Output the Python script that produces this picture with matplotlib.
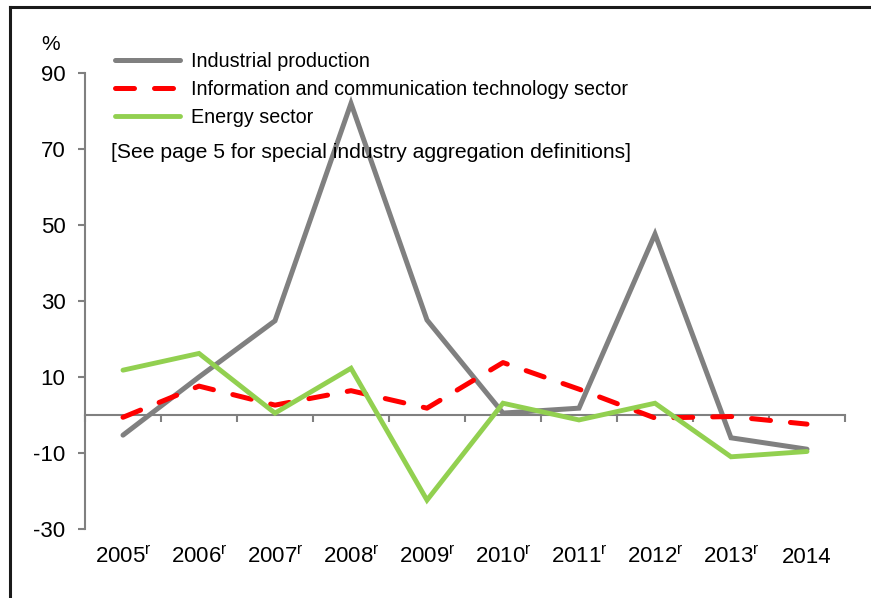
import matplotlib
matplotlib.use("Agg")
import matplotlib.pyplot as plt
from matplotlib.lines import Line2D
import matplotlib.transforms as mtransforms
import numpy as np

plt.rcParams['font.family'] = ['Liberation Sans', 'DejaVu Sans']

years = ["2005", "2006", "2007", "2008", "2009", "2010", "2011", "2012", "2013", "2014"]
revised = [True, True, True, True, True, True, True, True, True, False]
industrial = [-5.3, 10.0, 24.8, 82.0, 25.0, 0.5, 1.8, 47.6, -6.0, -9.0]
ict = [-0.6, 7.6, 2.6, 6.4, 1.8, 13.8, 6.8, -0.8, -0.4, -2.4]
energy = [11.8, 16.2, 0.5, 12.3, -22.4, 3.1, -1.3, 3.1, -11.0, -9.6]
yticks = [-30, -10, 10, 30, 50, 70, 90]

W, H = 871, 598
fig = plt.figure(figsize=(W / 100, H / 100), dpi=100)
ax = fig.add_axes([85 / W, 1 - 529 / H, 760 / W, (529 - 73) / H])

x = np.arange(len(years))
ax.plot(x, industrial, color="#808080", lw=3.6, solid_capstyle="round",
        solid_joinstyle="miter", label="Industrial production", zorder=3)
ax.plot(x, ict, color="#FF0000", lw=3.6, dashes=(3.8, 4.0), dash_capstyle="round",
        label="Information and communication technology sector", zorder=4)
ax.plot(x, energy, color="#92D050", lw=3.5, solid_capstyle="round",
        solid_joinstyle="miter", label="Energy sector", zorder=5)

ax.set_xlim(-0.5, len(years) - 0.5)
ax.set_ylim(-30, 90)

for s in ["top", "right"]:
    ax.spines[s].set_visible(False)
ax.spines["left"].set_color("#808080")
ax.spines["left"].set_linewidth(1.5)
ax.spines["bottom"].set_position(("data", 0))
ax.spines["bottom"].set_color("#808080")
ax.spines["bottom"].set_linewidth(1.5)

ax.set_yticks(yticks)
ax.set_yticklabels([str(v) for v in yticks])
ax.tick_params(axis="y", direction="out", length=5, width=1.5, color="#808080",
               labelsize=16, pad=9, labelcolor="black")
ax.set_xticks(np.arange(len(years) + 1) - 0.5)
ax.set_xticklabels([])
ax.tick_params(axis="x", direction="out", length=5, width=1.5, color="#808080")

trans = mtransforms.blended_transform_factory(ax.transData, ax.transAxes)
for i, (yr, r) in enumerate(zip(years, revised)):
    lab = yr + (r"$^{\mathregular{r}}$" if r else "")
    ax.text(i, -(563 - 529) / 456, lab, transform=trans, ha="center",
            va="baseline", fontsize=16)

fig.text(51 / W, 1 - 44 / H, "%", ha="center", va="center", fontsize=15)

leg = ax.legend(loc="upper left", bbox_to_anchor=(115 / W, 1 - 52 / H),
                bbox_transform=fig.transFigure, frameon=False, fontsize=14.2,
                handlelength=3.3, handletextpad=0.55, labelspacing=0.45,
                borderpad=0, borderaxespad=0)
fig.text(111 / W, 1 - 152 / H,
         "[See page 5 for special industry aggregation definitions]",
         ha="left", va="center", fontsize=15.2)

# figure border
fig.add_artist(Line2D([10 / W, 10 / W], [0, 1 - 7 / H], transform=fig.transFigure,
                      color="#1a1a1a", lw=2.2))
fig.add_artist(Line2D([10 / W, 1], [1 - 7 / H, 1 - 7 / H], transform=fig.transFigure,
                      color="#1a1a1a", lw=2.2))

fig.savefig("out.png", dpi=100)
